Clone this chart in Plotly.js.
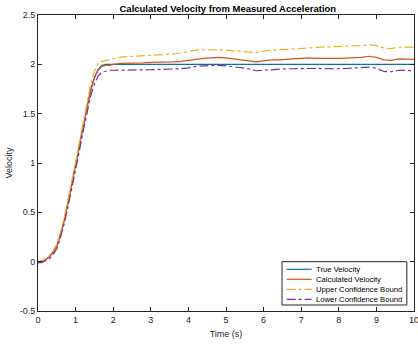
<!DOCTYPE html>
<html>
<head>
<meta charset="utf-8">
<script src="https://cdn.plot.ly/plotly-3.0.1.min.js"></script>
<style>html,body{margin:0;padding:0;background:#fff;}#chart{width:418px;height:344px;}</style>
</head>
<body>
<div id="chart"></div>
<script>
const timeS = [0,0.1,0.2,0.3,0.4,0.5,0.6,0.7,0.8,0.9,1.0,1.1,1.2,1.3,1.4,1.5,1.6,1.7,1.8,1.9,2.0,
  2.2,2.4,2.6,2.8,3.0,3.2,3.4,3.6,3.8,4.0,4.2,4.4,4.6,4.8,5.0,5.2,5.4,5.6,5.8,6.0,
  6.2,6.4,6.6,6.8,7.0,7.2,7.4,7.6,7.8,8.0,8.2,8.4,8.6,8.8,9.0,9.2,9.4,9.6,9.8,10.0];

const trueVelocity = [0,0.005,0.02,0.05,0.09,0.16,0.28,0.42,0.6,0.78,0.97,1.17,1.37,1.57,1.74,1.87,1.95,1.99,2.0,2.0,2.0,
  2,2,2,2,2,2,2,2,2,2,2,2,2,2,2,2,2,2,2,2,
  2,2,2,2,2,2,2,2,2,2,2,2,2,2,2,2,2,2,2,2];

const calculatedVelocity = [-0.01,0.0,0.02,0.05,0.1,0.16,0.28,0.42,0.6,0.78,0.97,1.17,1.37,1.56,1.73,1.86,1.94,1.98,1.99,1.99,2.0,
  2.01,2.01,2.01,2.015,2.02,2.02,2.02,2.025,2.03,2.04,2.055,2.06,2.065,2.07,2.065,2.055,2.05,2.04,2.025,2.035,
  2.045,2.045,2.05,2.055,2.06,2.065,2.06,2.058,2.057,2.06,2.063,2.065,2.07,2.082,2.07,2.045,2.04,2.055,2.052,2.05];

const upperBound = [-0.01,0.01,0.03,0.06,0.11,0.18,0.3,0.45,0.63,0.82,1.01,1.21,1.42,1.62,1.80,1.93,2.01,2.03,2.04,2.05,2.06,
  2.074,2.078,2.082,2.085,2.09,2.093,2.097,2.105,2.115,2.13,2.145,2.148,2.15,2.147,2.143,2.138,2.133,2.128,2.118,2.135,
  2.145,2.148,2.15,2.155,2.165,2.172,2.175,2.176,2.178,2.18,2.183,2.187,2.19,2.2,2.19,2.165,2.16,2.175,2.178,2.175];

const lowerBound = [-0.01,-0.01,0.01,0.03,0.07,0.13,0.25,0.39,0.56,0.74,0.93,1.12,1.32,1.51,1.68,1.8,1.88,1.92,1.93,1.94,1.94,
  1.94,1.94,1.942,1.942,1.945,1.948,1.95,1.952,1.955,1.965,1.98,1.985,1.99,1.99,1.985,1.976,1.965,1.955,1.935,1.94,
  1.952,1.95,1.955,1.955,1.958,1.96,1.96,1.956,1.952,1.955,1.958,1.962,1.965,1.972,1.96,1.928,1.925,1.94,1.938,1.935];

const seriesNames = ['True Velocity','Calculated Velocity','Upper Confidence Bound','Lower Confidence Bound'];
const seriesColors = ['#0072BD','#D95319','#EDB120','#7E2F8E'];
const seriesDash = ['solid','solid','dashdot','dashdot'];
const xTicks = [0,1,2,3,4,5,6,7,8,9,10];
const yTicks = [-0.5,0,0.5,1,1.5,2,2.5];
const yTickLabels = ['-0.5','0','0.5','1','1.5','2','2.5'];

const seriesValues = [trueVelocity, calculatedVelocity, upperBound, lowerBound];
const traces = seriesValues.map((vals, i) => ({
  x: timeS, y: vals, name: seriesNames[i], mode:'lines',
  line:{color: seriesColors[i], width:1.2, dash: seriesDash[i]}
}));

// Custom compact legend (MATLAB style), placed in plot-area fractions
const legBox = {x0:0.649, x1:0.981, y0:0.0203, y1:0.1666};
const legRowY = [0.1409, 0.1071, 0.0733, 0.0395];
const shapes = [{type:'rect', xref:'paper', yref:'paper', x0:legBox.x0, x1:legBox.x1, y0:legBox.y0, y1:legBox.y1,
  line:{color:'#262626', width:1}, fillcolor:'#fff', layer:'above'}];
const annotations = [];
seriesNames.forEach((nm, i) => {
  shapes.push({type:'line', xref:'paper', yref:'paper', x0:0.6614, x1:0.728, y0:legRowY[i], y1:legRowY[i],
    line:{color:seriesColors[i], width:1.2, dash:seriesDash[i]}, layer:'above'});
  annotations.push({xref:'paper', yref:'paper', x:0.7367, y:legRowY[i], xanchor:'left', yanchor:'middle',
    text:nm, showarrow:false, font:{size:7.7, color:'#000'}, borderpad:0});
});

const axisCommon = {
  showgrid:false, zeroline:false, showline:true, linecolor:'#262626', linewidth:1,
  mirror:'allticks', ticks:'inside', ticklen:4, tickcolor:'#262626', tickwidth:1,
  ticklabeloverflow:'allow',
  tickfont:{family:'Liberation Sans, Arial, sans-serif', size:9, color:'#262626'}
};

const layout = {
  width:418, height:344,
  margin:{l:38, r:4, t:15, b:33},
  paper_bgcolor:'#fff', plot_bgcolor:'#fff',
  font:{family:'Liberation Sans, Arial, sans-serif', color:'#262626'},
  title:{text:'<b>Calculated Velocity from Measured Acceleration</b>', font:{size:9.5, color:'#000'}, x:0.545, xanchor:'center', y:0.975, yanchor:'middle'},
  xaxis: Object.assign({}, axisCommon, {range:[0,10], tickvals:xTicks, ticktext:xTicks.map(String),
    title:{text:'Time (s)', font:{size:9, color:'#262626'}, standoff:6}}),
  yaxis: Object.assign({}, axisCommon, {range:[-0.5,2.5], tickvals:yTicks, ticktext:yTickLabels,
    title:{text:'Velocity', font:{size:9, color:'#262626'}, standoff:5}}),
  showlegend:false,
  shapes: shapes,
  annotations: annotations
};

Plotly.newPlot('chart', traces, layout, {displayModeBar:false, staticPlot:true});
</script>
</body>
</html>
